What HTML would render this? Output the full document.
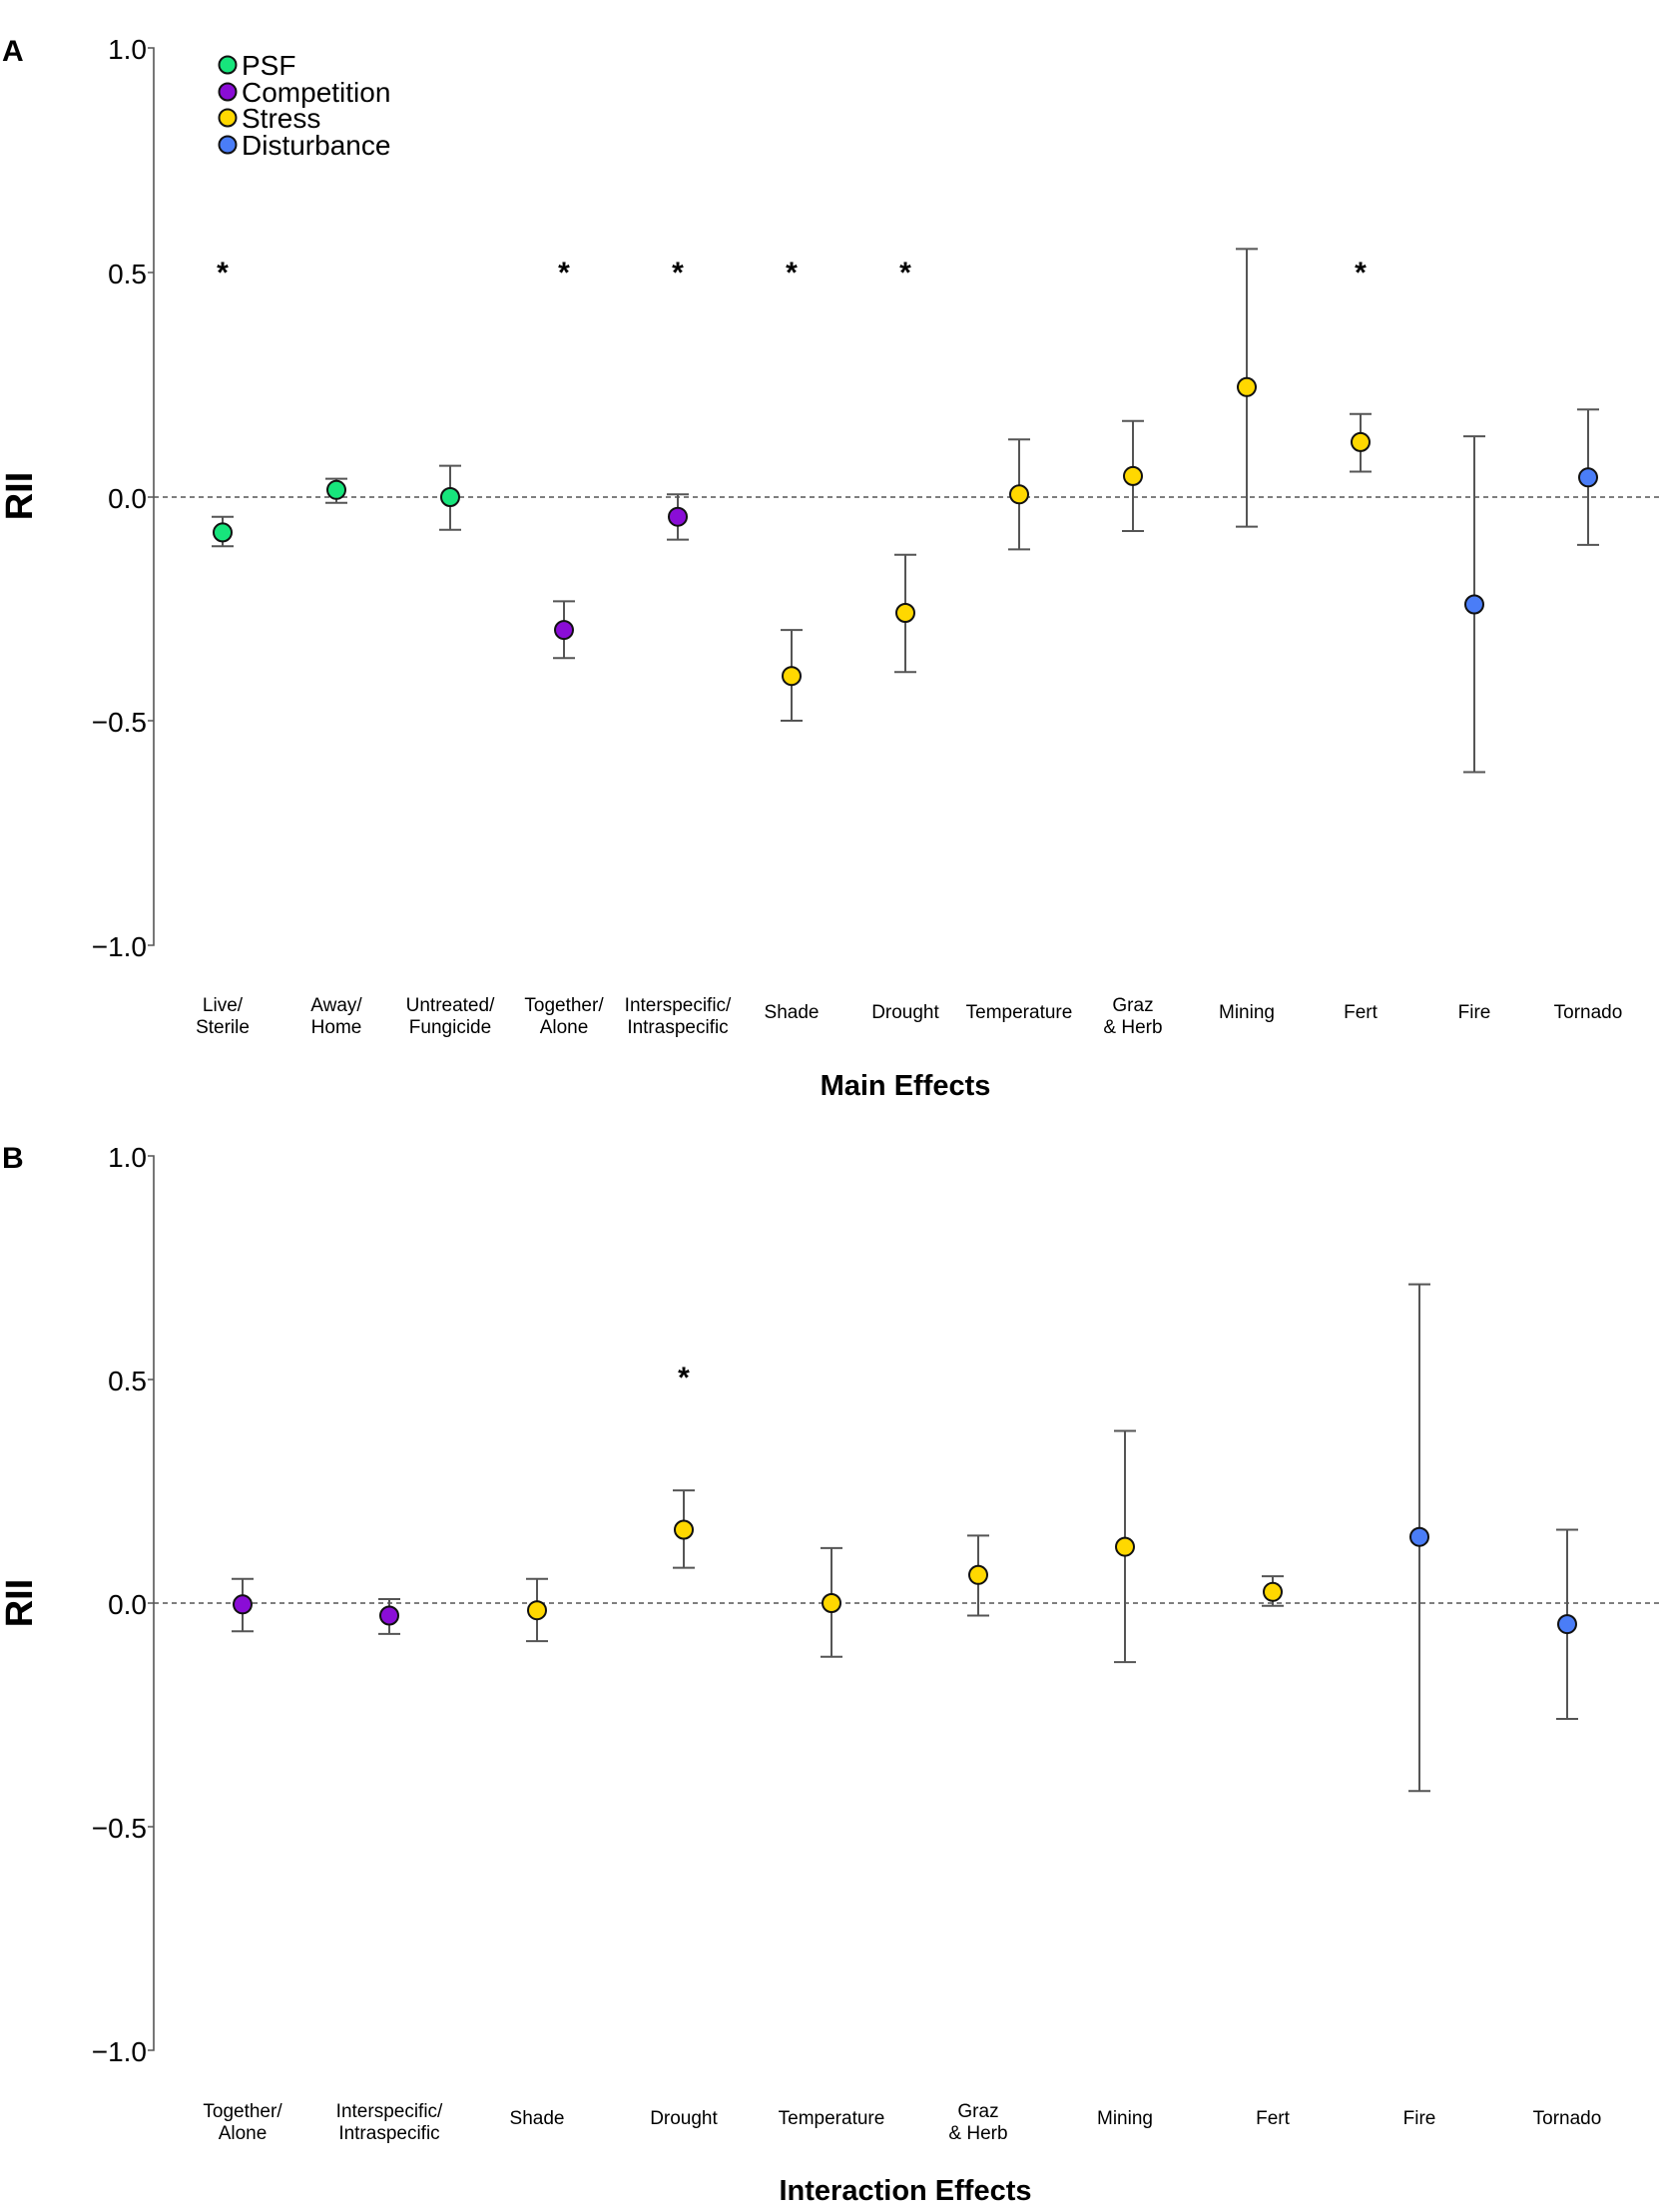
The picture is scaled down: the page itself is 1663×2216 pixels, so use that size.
<!DOCTYPE html>
<html><head><meta charset="utf-8"><style>
html,body{margin:0;padding:0;background:#fff;}
svg{display:block;font-family:"Liberation Sans",Arial,sans-serif;}
.eb{stroke:#555;stroke-width:2;fill:none}
.ax{stroke:#555;stroke-width:1.6;fill:none}
.zl{stroke:#555;stroke-width:1.5;stroke-dasharray:5,4}
.pt{stroke:#111;stroke-width:2}
.tk{font-size:28px;text-anchor:end;fill:#000}
.cl{font-size:19px;text-anchor:middle;fill:#000}
.tt{font-size:29px;font-weight:bold;text-anchor:middle;fill:#000}
.st{font-size:30px;font-weight:bold;text-anchor:middle;fill:#000}
.g{fill:#17E57C}.p{fill:#8A0DD6}.y{fill:#FFD800}.b{fill:#4A7DF7}
</style></head><body>
<svg width="1663" height="2216" viewBox="0 0 1663 2216" xmlns="http://www.w3.org/2000/svg">
<!-- Panel A -->
<text x="2" y="61" font-size="30" font-weight="bold">A</text>
<path class="ax" d="M148 48 H154 V947 H148 M148 273 H154 M148 498 H154 M148 722 H154"/>
<text class="tk" x="147" y="59">1.0</text>
<text class="tk" x="147" y="284">0.5</text>
<text class="tk" x="147" y="509">0.0</text>
<text class="tk" x="147" y="733">−0.5</text>
<text class="tk" x="147" y="958">−1.0</text>
<line class="zl" x1="154" y1="498" x2="1663" y2="498"/>
<text transform="translate(32,497) rotate(-90)" font-size="38" font-weight="bold" text-anchor="middle">RII</text>
<!-- legend -->
<circle class="pt g" cx="228" cy="65" r="8.5"/><text x="242" y="75" font-size="28">PSF</text>
<circle class="pt p" cx="228" cy="92" r="8.5"/><text x="242" y="102" font-size="28">Competition</text>
<circle class="pt y" cx="228" cy="118" r="8.5"/><text x="242" y="128" font-size="28">Stress</text>
<circle class="pt b" cx="228" cy="145" r="8.5"/><text x="242" y="155" font-size="28">Disturbance</text>
<!-- error bars A -->
<path class="eb" d="
M223 517.7V547.3M212 517.7H234M212 547.3H234
M337 479.6V503.8M326 479.6H348M326 503.8H348
M451 466.6V530.7M440 466.6H462M440 530.7H462
M565 602.4V659.3M554 602.4H576M554 659.3H576
M679 495.3V540.6M668 495.3H690M668 540.6H690
M793 631.1V722M782 631.1H804M782 722H804
M907 555.8V673.2M896 555.8H918M896 673.2H918
M1021 440.2V550.4M1010 440.2H1032M1010 550.4H1032
M1135 421.8V532M1124 421.8H1146M1124 532H1146
M1249 249.4V527.6M1238 249.4H1260M1238 527.6H1260
M1363 414.7V472.5M1352 414.7H1374M1352 472.5H1374
M1477 437.1V773.5M1466 437.1H1488M1466 773.5H1488
M1591 410.2V545.9M1580 410.2H1602M1580 545.9H1602"/>
<circle class="pt g" cx="223" cy="533.4" r="9"/>
<circle class="pt g" cx="337" cy="490.8" r="9"/>
<circle class="pt g" cx="451" cy="498" r="9"/>
<circle class="pt p" cx="565" cy="631.1" r="9"/>
<circle class="pt p" cx="679" cy="517.7" r="9"/>
<circle class="pt y" cx="793" cy="677.2" r="9"/>
<circle class="pt y" cx="907" cy="614" r="9"/>
<circle class="pt y" cx="1021" cy="495.3" r="9"/>
<circle class="pt y" cx="1135" cy="476.9" r="9"/>
<circle class="pt y" cx="1249" cy="387.8" r="9"/>
<circle class="pt y" cx="1363" cy="442.9" r="9"/>
<circle class="pt b" cx="1477" cy="605.5" r="9"/>
<circle class="pt b" cx="1591" cy="478.3" r="9"/>
<g class="st"><text x="223" y="283">*</text><text x="565" y="283">*</text><text x="679" y="283">*</text><text x="793" y="283">*</text><text x="907" y="283">*</text><text x="1363" y="283">*</text></g>
<g class="cl">
<text x="223" y="1013">Live/</text><text x="223" y="1035">Sterile</text>
<text x="337" y="1013">Away/</text><text x="337" y="1035">Home</text>
<text x="451" y="1013">Untreated/</text><text x="451" y="1035">Fungicide</text>
<text x="565" y="1013">Together/</text><text x="565" y="1035">Alone</text>
<text x="679" y="1013">Interspecific/</text><text x="679" y="1035">Intraspecific</text>
<text x="793" y="1020">Shade</text>
<text x="907" y="1020">Drought</text>
<text x="1021" y="1020">Temperature</text>
<text x="1135" y="1013">Graz</text><text x="1135" y="1035">&amp; Herb</text>
<text x="1249" y="1020">Mining</text>
<text x="1363" y="1020">Fert</text>
<text x="1477" y="1020">Fire</text>
<text x="1591" y="1020">Tornado</text>
</g>
<text class="tt" x="907" y="1097">Main Effects</text>

<!-- Panel B -->
<text x="2" y="1170" font-size="30" font-weight="bold">B</text>
<path class="ax" d="M148 1158 H154 V2054 H148 M148 1382 H154 M148 1606 H154 M148 1830 H154"/>
<text class="tk" x="147" y="1169">1.0</text>
<text class="tk" x="147" y="1393">0.5</text>
<text class="tk" x="147" y="1617">0.0</text>
<text class="tk" x="147" y="1841">−0.5</text>
<text class="tk" x="147" y="2065">−1.0</text>
<line class="zl" x1="154" y1="1606" x2="1663" y2="1606"/>
<text transform="translate(32,1606) rotate(-90)" font-size="38" font-weight="bold" text-anchor="middle">RII</text>
<path class="eb" d="
M243 1581.8V1634.2M232 1581.8H254M232 1634.2H254
M390 1602V1636.9M379 1602H401M379 1636.9H401
M538 1581.8V1644.1M527 1581.8H549M527 1644.1H549
M685 1493.1V1570.6M674 1493.1H696M674 1570.6H696
M833 1550.9V1659.8M822 1550.9H844M822 1659.8H844
M980 1538.4V1618.5M969 1538.4H991M969 1618.5H991
M1127 1433.5V1665.1M1116 1433.5H1138M1116 1665.1H1138
M1275 1579.1V1608.7M1264 1579.1H1286M1264 1608.7H1286
M1422 1286.6V1794.2M1411 1286.6H1433M1411 1794.2H1433
M1570 1532.5V1722M1559 1532.5H1581M1559 1722H1581"/>
<circle class="pt p" cx="243" cy="1607.3" r="9"/>
<circle class="pt p" cx="390" cy="1618.5" r="9"/>
<circle class="pt y" cx="538" cy="1613.2" r="9"/>
<circle class="pt y" cx="685" cy="1532.5" r="9"/>
<circle class="pt y" cx="833" cy="1606" r="9"/>
<circle class="pt y" cx="980" cy="1577.8" r="9"/>
<circle class="pt y" cx="1127" cy="1549.6" r="9"/>
<circle class="pt y" cx="1275" cy="1594.8" r="9"/>
<circle class="pt b" cx="1422" cy="1539.7" r="9"/>
<circle class="pt b" cx="1570" cy="1627.1" r="9"/>
<text class="st" x="685" y="1390">*</text>
<g class="cl">
<text x="243" y="2121">Together/</text><text x="243" y="2143">Alone</text>
<text x="390" y="2121">Interspecific/</text><text x="390" y="2143">Intraspecific</text>
<text x="538" y="2128">Shade</text>
<text x="685" y="2128">Drought</text>
<text x="833" y="2128">Temperature</text>
<text x="980" y="2121">Graz</text><text x="980" y="2143">&amp; Herb</text>
<text x="1127" y="2128">Mining</text>
<text x="1275" y="2128">Fert</text>
<text x="1422" y="2128">Fire</text>
<text x="1570" y="2128">Tornado</text>
</g>
<text class="tt" x="907" y="2204">Interaction Effects</text>
</svg>
</body></html>
